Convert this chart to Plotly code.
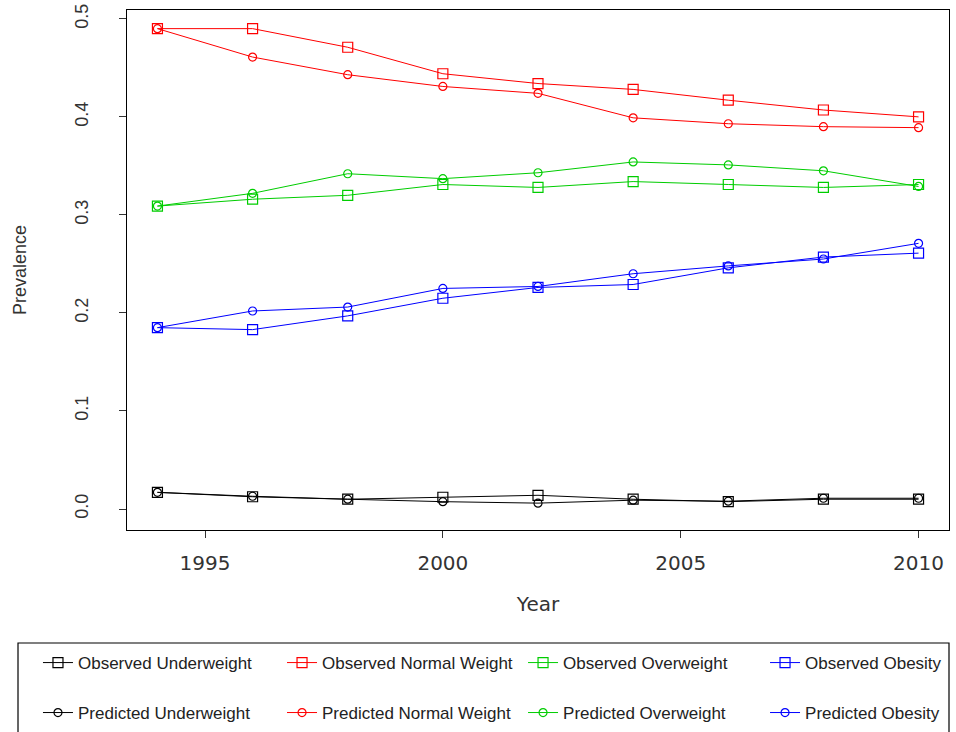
import plotly.graph_objects as go

# Survey years
years = [1994, 1996, 1998, 2000, 2002, 2004, 2006, 2008, 2010]

# Observed prevalence by weight category
obs_underweight = [0.017, 0.0125, 0.010, 0.012, 0.014, 0.010, 0.0075, 0.010, 0.010]
obs_normal = [0.490, 0.490, 0.471, 0.444, 0.434, 0.428, 0.417, 0.407, 0.400]
obs_overweight = [0.309, 0.316, 0.320, 0.331, 0.328, 0.334, 0.331, 0.328, 0.331]
obs_obesity = [0.185, 0.183, 0.197, 0.215, 0.226, 0.229, 0.246, 0.257, 0.261]

# Model-predicted prevalence by weight category
pred_underweight = [0.017, 0.013, 0.010, 0.0075, 0.006, 0.009, 0.008, 0.011, 0.011]
pred_normal = [0.490, 0.461, 0.443, 0.431, 0.424, 0.399, 0.393, 0.390, 0.389]
pred_overweight = [0.309, 0.322, 0.342, 0.337, 0.343, 0.354, 0.351, 0.345, 0.329]
pred_obesity = [0.185, 0.202, 0.206, 0.225, 0.227, 0.240, 0.248, 0.255, 0.271]

categories = ["Underweight", "Normal Weight", "Overweight", "Obesity"]
colors = ["#000000", "#FF0000", "#00CD00", "#0000FF"]
observed = [obs_underweight, obs_normal, obs_overweight, obs_obesity]
predicted = [pred_underweight, pred_normal, pred_overweight, pred_obesity]

# Legend grid: one legend per entry, 4 columns x 2 rows under the plot
col_x = [-0.1083, 0.1886, 0.4818, 0.7762]
row_y = [-0.2558, -0.3519]

fig = go.Figure()
legend_layout = {}
legend_font = dict(family="Liberation Sans, Arial, sans-serif", size=17, color="#222")

idx = 0
for row, (kind, series, sym, msize) in enumerate([
        ("Observed", observed, "square-open", 10),
        ("Predicted", predicted, "circle-open", 8)]):
    for col, (cat, color, vals) in enumerate(zip(categories, colors, series)):
        idx += 1
        lname = "legend" if idx == 1 else f"legend{idx}"
        fig.add_trace(go.Scatter(
            x=years, y=vals, mode="lines+markers", name=f"{kind} {cat}",
            line=dict(color=color, width=1),
            marker=dict(symbol=sym, size=msize, color=color, line=dict(width=1.2, color=color)),
            legend=lname,
        ))
        legend_layout[lname] = dict(
            x=col_x[col], y=row_y[row], xanchor="left", yanchor="middle",
            orientation="h", font=legend_font, bgcolor="rgba(0,0,0,0)", borderwidth=0,
            itemclick=False, itemdoubleclick=False,
        )

fig.update_layout(
    width=956, height=732,
    margin=dict(l=127, r=7, t=10, b=202, autoexpand=False),
    paper_bgcolor="white", plot_bgcolor="white",
    showlegend=True,
    xaxis=dict(
        range=[1993.36, 2010.64], tickvals=[1995, 2000, 2005, 2010],
        showline=True, linecolor="black", linewidth=1, mirror=True,
        ticks="outside", ticklen=7, tickcolor="#333", showgrid=False, zeroline=False,
        tickfont=dict(family="DejaVu Sans, sans-serif", size=20, color="#333"),
        ticklabelstandoff=8,
        title=dict(text="Year", font=dict(family="DejaVu Sans, sans-serif", size=20, color="#333"), standoff=22),
    ),
    yaxis=dict(
        range=[-0.0214, 0.509], tickvals=[0, 0.1, 0.2, 0.3, 0.4, 0.5], tickformat=".1f",
        showline=True, linecolor="black", linewidth=1, mirror=True,
        ticks="outside", ticklen=7, tickcolor="#333", showgrid=False, zeroline=False,
        tickangle=-90,
        tickfont=dict(family="Liberation Sans, Arial, sans-serif", size=18, color="#333"),
        ticklabelstandoff=24,
        title=dict(text="Prevalence", font=dict(family="Liberation Sans, Arial, sans-serif", size=18, color="#333"), standoff=40),
    ),
    shapes=[dict(
        type="rect", xref="paper", yref="paper",
        x0=-0.1326, x1=1.0, y0=-0.2173, y1=-0.42,
        line=dict(color="black", width=1.2), fillcolor="rgba(0,0,0,0)",
    )],
    **legend_layout,
)

fig.write_html("out.html")
